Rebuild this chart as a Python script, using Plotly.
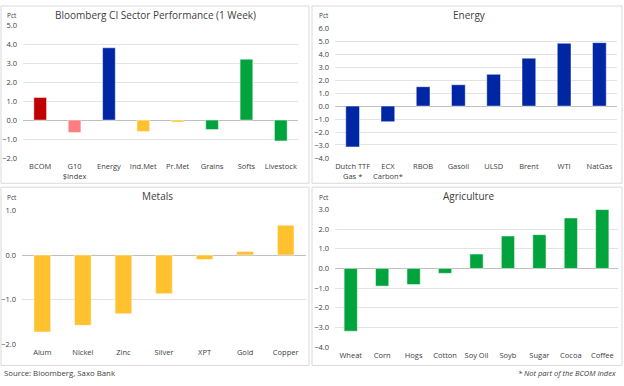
import plotly.graph_objects as go

W, H = 624, 386

sector_cats = ["BCOM", "G10<br>$Index", "Energy", "Ind.Met", "Pr.Met", "Grains", "Softs", "Livestock"]
sector_vals = [1.2, -0.65, 3.82, -0.6, -0.1, -0.5, 3.22, -1.1]
sector_colors = ["#C00000", "#FF7C80", "#0027A3", "#FFC12E", "#FFC12E", "#00A33C", "#00A33C", "#00A33C"]

energy_cats = ["Dutch TTF<br>Gas *", "ECX<br>Carbon*", "RBOB", "Gasoil", "ULSD", "Brent", "WTI", "NatGas"]
energy_vals = [-3.15, -1.2, 1.5, 1.65, 2.45, 3.7, 4.85, 4.9]

metals_cats = ["Alum", "Nickel", "Zinc", "Silver", "XPT", "Gold", "Copper"]
metals_vals = [-1.73, -1.58, -1.32, -0.87, -0.1, 0.08, 0.67]

agri_cats = ["Wheat", "Corn", "Hogs", "Cotton", "Soy Oil", "Soyb", "Sugar", "Cocoa", "Coffee"]
agri_vals = [-3.2, -0.9, -0.82, -0.25, 0.73, 1.65, 1.72, 2.57, 3.0]

BLUE = "#0027A3"
YELLOW = "#FFC12E"
GREEN = "#00A33C"
FONT = "Open Sans"
TXT = "#404040"


def px_x(p):
    return p / W


def px_y(p):
    return 1 - p / H


fig = go.Figure()

panels = [
    (sector_cats, sector_vals, sector_colors, 0.37, (23, 298), (21, 157), (-2, 5), 1.0,
     "Bloomberg CI Sector Performance (1 Week)", (155, 10), (12, 11)),
    (energy_cats, energy_vals, BLUE, 0.39, (335, 617), (24, 157), (-4, 6), 1.0,
     "Energy", (469, 10), (324, 11)),
    (metals_cats, metals_vals, YELLOW, 0.41, (22, 306), (211, 348), (-2, 1), 1.0,
     "Metals", (157, 196), (12, 198)),
    (agri_cats, agri_vals, GREEN, 0.42, (335, 618), (210, 351), (-4, 3), 1.0,
     "Agriculture", (469, 196), (324, 198)),
]

annotations = []
for i, (cats, vals, cols, bw, xp, yp, yr, dt, title, tpos, ppos) in enumerate(panels):
    n = i + 1
    xa = "x" if n == 1 else f"x{n}"
    ya = "y" if n == 1 else f"y{n}"
    fig.add_trace(go.Bar(
        x=cats, y=vals, xaxis=xa, yaxis=ya, width=bw,
        marker=dict(color=cols, line=dict(color="rgba(255,255,255,0.6)", width=0.8)),
        showlegend=False, hoverinfo="x+y",
    ))
    xkey = "xaxis" if n == 1 else f"xaxis{n}"
    ykey = "yaxis" if n == 1 else f"yaxis{n}"
    fig.update_layout(**{
        xkey: dict(
            domain=[px_x(xp[0]), px_x(xp[1])], anchor=ya, type="category",
            range=[-0.5, len(cats) - 0.5], showgrid=False, showline=False,
            ticks="", tickfont=dict(family=FONT, size=7.5, color=TXT),
            ticklabelstandoff=3, tickangle=0, fixedrange=True,
        ),
        ykey: dict(
            domain=[px_y(yp[1]), px_y(yp[0])], anchor=xa, range=list(yr),
            dtick=dt, tick0=0, tickformat=".1f", showgrid=True,
            gridcolor="#E3E3E3", gridwidth=1, zeroline=True,
            zerolinecolor="#BFBFBF", zerolinewidth=1, showline=False,
            ticks="", tickfont=dict(family=FONT, size=7.5, color=TXT),
            ticklabelstandoff=5, fixedrange=True,
        ),
    })
    annotations.append(dict(
        text=title, x=px_x(tpos[0]), y=px_y(tpos[1]), xref="paper", yref="paper",
        xanchor="center", yanchor="middle", showarrow=False,
        font=dict(family=FONT, size=10, color=TXT),
    ))
    annotations.append(dict(
        text="Pct", x=px_x(ppos[0]), y=px_y(ppos[1]), xref="paper", yref="paper",
        xanchor="center", yanchor="middle", showarrow=False,
        font=dict(family=FONT, size=6.5, color=TXT),
    ))

annotations.append(dict(
    text="Source: Bloomberg, Saxo Bank", x=px_x(2), y=px_y(378), xref="paper", yref="paper",
    xanchor="left", yanchor="middle", showarrow=False,
    font=dict(family=FONT, size=7.8, color=TXT),
))
annotations.append(dict(
    text="<i>* Not part of the BCOM Index</i>", x=px_x(618), y=px_y(378), xref="paper", yref="paper",
    xanchor="right", yanchor="middle", showarrow=False,
    font=dict(family=FONT, size=7.5, color=TXT),
))

shapes = []
for (x0, y0, x1, y1) in [(1, 1, 309, 183), (312, 1, 622, 183), (1, 187, 309, 370), (312, 187, 622, 370)]:
    shapes.append(dict(
        type="rect", xref="paper", yref="paper",
        x0=px_x(x0), x1=px_x(x1), y0=px_y(y1), y1=px_y(y0),
        line=dict(color="#D9D9D9", width=1), fillcolor="rgba(0,0,0,0)", layer="below",
    ))

fig.update_layout(
    width=W, height=H, margin=dict(l=0, r=0, t=0, b=0),
    paper_bgcolor="white", plot_bgcolor="white",
    annotations=annotations, shapes=shapes, bargap=0.6,
    font=dict(family=FONT, color=TXT),
)

fig.write_html(
    "out.html",
    config={"displayModeBar": False},
    post_script="document.body.style.margin='0';document.body.style.overflow='hidden';"
                "document.documentElement.style.overflow='hidden';",
)
